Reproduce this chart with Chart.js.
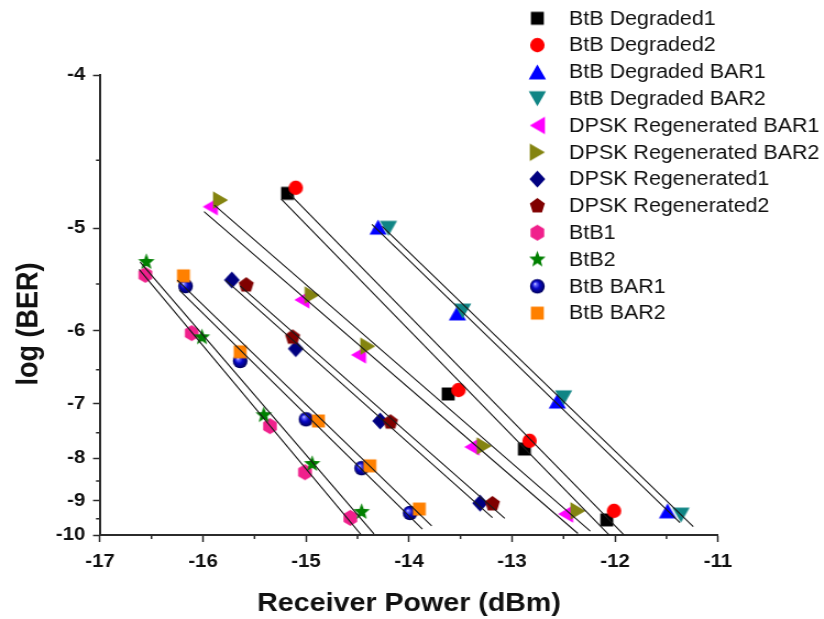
<!DOCTYPE html>
<html lang="en">
<head>
<meta charset="UTF-8" />
<title>BER vs Receiver Power</title>
<script src="https://cdn.jsdelivr.net/npm/chart.js@4"></script>
<style>
  html, body { margin: 0; padding: 0; background: #fff; overflow: hidden; }
  /* the figure is drawn slightly narrow and widened here, like the original plot export */
  #wrap { width: 749px; height: 619px; transform: scaleX(1.1); transform-origin: 0 0; }
</style>
</head>
<body>
<div id="wrap"><canvas id="berChart" width="749" height="619"></canvas></div>
<script>
const SX = 1.1; // must match the scaleX() on #wrap

const seriesNames = [
  "BtB Degraded1", "BtB Degraded2", "BtB Degraded BAR1", "BtB Degraded BAR2",
  "DPSK Regenerated BAR1", "DPSK Regenerated BAR2", "DPSK Regenerated1", "DPSK Regenerated2",
  "BtB1", "BtB2", "BtB BAR1", "BtB BAR2"
];
const seriesColors = [
  "#000000", "#ff0000", "#0000ff", "#108585",
  "#ff00ff", "#848410", "#000080", "#800000",
  "#f0208c", "#008000", "#0000a0", "#ff8000"
];
const seriesShapes = [
  "square", "circle", "triangleUp", "triangleDown",
  "triangleLeft", "triangleRight", "diamond", "pentagon",
  "hexagon", "star", "sphere", "square"
];

// received power, dBm
const powerDeg1    = [-15.18, -13.62, -12.88, -12.08];
const powerDeg2    = [-15.10, -13.52, -12.83, -12.01];
const powerDegBar1 = [-14.30, -13.53, -12.56, -11.49];
const powerDegBar2 = [-14.20, -13.48, -12.50, -11.36];
const powerRegBar1 = [-15.93, -15.04, -14.49, -13.39, -12.48];
const powerRegBar2 = [-15.83, -14.94, -14.40, -13.27, -12.36];
const powerReg1    = [-15.72, -15.10, -14.28, -13.31];
const powerReg2    = [-15.58, -15.13, -14.18, -13.19];
const powerBtB1    = [-16.56, -16.11, -15.35, -15.01, -14.57];
const powerBtB2    = [-16.55, -16.01, -15.41, -14.94, -14.46];
const powerBar1    = [-16.17, -15.64, -15.00, -14.46, -13.99];
const powerBar2    = [-16.19, -15.64, -14.88, -14.38, -13.90];

// log10(BER)
const berDeg1    = [-4.73, -6.85, -7.81, -9.53];
const berDeg2    = [-4.69, -6.79, -7.65, -9.27];
const berDegBar1 = [-4.99, -5.80, -6.96, -9.27];
const berDegBar2 = [-5.00, -5.78, -6.91, -9.39];
const berRegBar1 = [-4.83, -5.66, -6.30, -7.77, -9.36];
const berRegBar2 = [-4.78, -5.61, -6.19, -7.75, -9.27];
const berReg1    = [-5.46, -6.22, -7.29, -9.06];
const berReg2    = [-5.51, -6.08, -7.31, -9.08];
const berBtB1    = [-5.41, -6.03, -7.38, -8.30, -9.47];
const berBtB2    = [-5.29, -6.08, -7.19, -8.12, -9.30];
const berBar1    = [-5.52, -6.38, -7.26, -8.21, -9.33];
const berBar2    = [-5.42, -6.26, -7.29, -8.16, -9.22];

const powerData = [powerDeg1, powerDeg2, powerDegBar1, powerDegBar2, powerRegBar1, powerRegBar2,
                   powerReg1, powerReg2, powerBtB1, powerBtB2, powerBar1, powerBar2];
const berData = [berDeg1, berDeg2, berDegBar1, berDegBar2, berRegBar1, berRegBar2,
                 berReg1, berReg2, berBtB1, berBtB2, berBar1, berBar2];

const xTickValues = [-17, -16, -15, -14, -13, -12, -11];
const yTickValues = [-4, -5, -6, -7, -8, -9, -10];

// BER axis: linear in -1/log(BER), the usual waterfall-curve scale
class ReciprocalScale extends Chart.LinearScale {
  getPixelForValue(value) {
    if (value === null || value === undefined) return NaN;
    const lo = -1 / this.min, hi = -1 / this.max;
    return this.getPixelForDecimal((-1 / value - lo) / (hi - lo));
  }
  getValueForPixel(pixel) {
    const lo = -1 / this.min, hi = -1 / this.max;
    return -1 / (lo + this.getDecimalForPixel(pixel) * (hi - lo));
  }
}
ReciprocalScale.id = "reciprocal";
ReciprocalScale.defaults = Chart.LinearScale.defaults;
Chart.register(ReciprocalScale);

function makeMarker(shape, color) {
  const size = 18;
  const k = 1.08; // overall marker scale
  const c = document.createElement("canvas");
  c.width = Math.ceil(size / SX) + 2;
  c.height = size + 2;
  const g = c.getContext("2d");
  g.translate(c.width / 2, c.height / 2);
  g.scale(k / SX, k);
  g.fillStyle = color;
  g.beginPath();
  if (shape === "square") {
    g.rect(-6, -6, 12, 12);
  } else if (shape === "circle") {
    g.arc(0, 0, 6.7, 0, Math.PI * 2);
  } else if (shape.startsWith("triangle")) {
    const deg = { triangleUp: 0, triangleRight: 90, triangleDown: 180, triangleLeft: 270 }[shape];
    g.rotate(deg * Math.PI / 180);
    g.moveTo(0, -7);
    g.lineTo(8, 7);
    g.lineTo(-8, 7);
    g.closePath();
  } else if (shape === "diamond") {
    g.moveTo(0, -7.8); g.lineTo(7.3, 0); g.lineTo(0, 7.8); g.lineTo(-7.3, 0); g.closePath();
  } else if (shape === "pentagon" || shape === "hexagon") {
    const n = shape === "pentagon" ? 5 : 6;
    const r = 7.3;
    for (let j = 0; j < n; j++) {
      const a = -Math.PI / 2 + j * 2 * Math.PI / n;
      j === 0 ? g.moveTo(r * Math.cos(a), r * Math.sin(a)) : g.lineTo(r * Math.cos(a), r * Math.sin(a));
    }
    g.closePath();
  } else if (shape === "star") {
    for (let j = 0; j < 10; j++) {
      const r = j % 2 === 0 ? 8 : 3.4;
      const a = -Math.PI / 2 + j * Math.PI / 5;
      j === 0 ? g.moveTo(r * Math.cos(a), r * Math.sin(a)) : g.lineTo(r * Math.cos(a), r * Math.sin(a));
    }
    g.closePath();
  } else if (shape === "sphere") {
    const grad = g.createRadialGradient(-2.4, -2.4, 0, 0, 0, 6.8);
    grad.addColorStop(0, "#f0f0ff");
    grad.addColorStop(0.18, "#6a6aff");
    grad.addColorStop(0.5, "#0808c8");
    grad.addColorStop(1, "#000058");
    g.fillStyle = grad;
    g.arc(0, 0, 6.8, 0, Math.PI * 2);
  }
  g.fill();
  return c;
}

const markers = seriesShapes.map((s, i) => makeMarker(s, seriesColors[i]));

// least-squares line in the axis' own (reciprocal) space, run a little past the data
function fitLine(xs, ys) {
  const us = ys.map(v => -1 / v);
  const n = xs.length;
  const mx = xs.reduce((a, b) => a + b, 0) / n;
  const mu = us.reduce((a, b) => a + b, 0) / n;
  let sxy = 0, sxx = 0;
  for (let i = 0; i < n; i++) {
    sxy += (xs[i] - mx) * (us[i] - mu);
    sxx += (xs[i] - mx) * (xs[i] - mx);
  }
  const slope = sxy / sxx, icpt = mu - slope * mx;
  const x0 = Math.min(...xs) - 0.06, x1 = Math.max(...xs) + 0.12;
  return [
    { x: x0, y: -1 / (icpt + slope * x0) },
    { x: x1, y: -1 / (icpt + slope * x1) }
  ];
}

const pointSets = seriesNames.map((name, i) => ({
  label: name,
  data: powerData[i].map((p, j) => ({ x: p, y: berData[i][j] })),
  pointStyle: markers[i],
  pointRadius: 7,
  showLine: false,
  order: -i
}));

const fitSets = seriesNames.map((name, i) => ({
  label: name + " fit",
  data: fitLine(powerData[i], berData[i]),
  showLine: true,
  borderColor: "#1a1a1a",
  borderWidth: 1.1,
  pointRadius: 0,
  order: -100
}));

const AXIS_COLOR = "#2b2b2b";

const extrasPlugin = {
  id: "extras",
  afterDraw(chart) {
    const ctx = chart.ctx;
    const xs = chart.scales.x, ys = chart.scales.y;
    const area = chart.chartArea;
    ctx.save();

    // minor ticks halfway between the labelled ones
    ctx.strokeStyle = AXIS_COLOR;
    ctx.lineWidth = 1.5;
    ctx.beginPath();
    for (let i = 0; i < yTickValues.length - 1; i++) {
      const py = ys.getPixelForValue((yTickValues[i] + yTickValues[i + 1]) / 2);
      ctx.moveTo(area.left - 4 / SX, py);
      ctx.lineTo(area.left, py);
    }
    for (let i = 0; i < xTickValues.length - 1; i++) {
      const px = xs.getPixelForValue((xTickValues[i] + xTickValues[i + 1]) / 2);
      ctx.moveTo(px, area.bottom);
      ctx.lineTo(px, area.bottom + 4);
    }
    ctx.stroke();

    // y axis title
    ctx.fillStyle = "#111";
    ctx.font = 'bold 27px "Liberation Sans", Arial, sans-serif';
    ctx.textAlign = "center";
    ctx.textBaseline = "middle";
    ctx.translate(27, 324);
    ctx.rotate(-Math.PI / 2);
    ctx.fillText("log (BER)", 0, 0);
    ctx.setTransform(1, 0, 0, 1, 0, 0);

    // legend column
    ctx.font = '19.5px "Liberation Sans", Arial, sans-serif';
    ctx.textAlign = "left";
    seriesNames.forEach((name, i) => {
      const y = 18.3 + i * 26.8;
      const m = markers[i];
      ctx.drawImage(m, 488.5 - m.width / 2, y - m.height / 2);
      ctx.fillText(name, 517.3, y + 1);
    });
    ctx.restore();
  }
};

Chart.defaults.font.family = '"Liberation Sans", Arial, sans-serif';
Chart.defaults.color = "#111";

new Chart(document.getElementById("berChart"), {
  type: "scatter",
  data: { datasets: [...pointSets, ...fitSets] },
  options: {
    responsive: false,
    animation: false,
    events: [],
    layout: { padding: { top: 75, right: 749 - 718 / SX, bottom: 0, left: 0 } },
    plugins: { legend: { display: false }, tooltip: { enabled: false } },
    scales: {
      x: {
        type: "linear",
        min: -17,
        max: -11,
        afterFit: s => { s.height = 84; },
        afterBuildTicks: s => { s.ticks = xTickValues.map(v => ({ value: v })); },
        border: { display: true, color: AXIS_COLOR, width: 2 },
        grid: { drawOnChartArea: false, tickLength: 7, tickWidth: 1.5, tickColor: AXIS_COLOR },
        ticks: { font: { size: 18.5, weight: "bold" }, padding: 9, maxRotation: 0, color: "#111" },
        title: {
          display: true,
          text: "Receiver Power (dBm)",
          font: { size: 26, weight: "bold" },
          color: "#111",
          padding: { top: 0, bottom: 0 }
        }
      },
      y: {
        type: "reciprocal",
        min: -10,
        max: -4,
        afterFit: s => { s.width = 100 / SX; },
        afterBuildTicks: s => { s.ticks = yTickValues.map(v => ({ value: v })); },
        border: { display: true, color: AXIS_COLOR, width: 2 },
        grid: { drawOnChartArea: false, tickLength: 7 / SX, tickWidth: 1.5, tickColor: AXIS_COLOR },
        ticks: { font: { size: 18.5, weight: "bold" }, padding: 7, color: "#111", callback: v => String(v) }
      }
    }
  },
  plugins: [extrasPlugin]
});
</script>
</body>
</html>
